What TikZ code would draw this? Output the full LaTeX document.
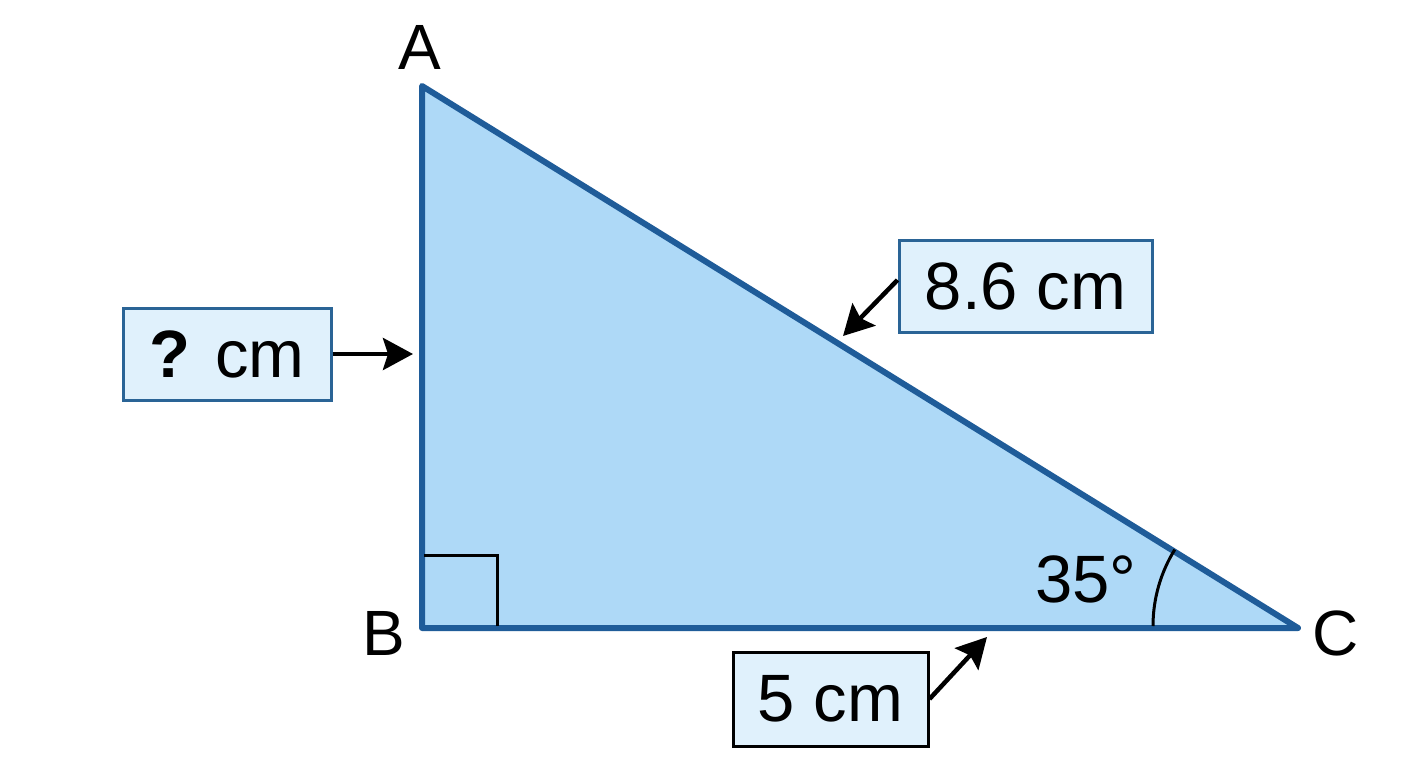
\documentclass[tikz,border=0pt]{standalone}
\usepackage{fontspec}
\setmainfont{Liberation Sans}
\usetikzlibrary{arrows.meta}
\definecolor{trifill}{HTML}{AED9F7}
\definecolor{tristroke}{HTML}{1F5C99}
\definecolor{boxfill}{HTML}{E0F1FC}
\definecolor{boxblue}{HTML}{2A6496}
\tikzset{
  tri/.style={fill=trifill, draw=tristroke, line width=6pt, line join=round},
  vlabel/.style={font=\fontsize{64}{76}\selectfont, inner sep=0pt},
  measbox/.style={draw=boxblue, fill=boxfill, line width=3pt, font=\fontsize{67}{80}\selectfont, inner sep=0pt},
  pointer/.style={draw=black, line width=4.5pt, -{Stealth[length=30pt,width=32pt,inset=5pt]}},
  anglemark/.style={draw=black, line width=3pt}
}
\begin{document}
\begin{tikzpicture}[x=1pt,y=-1pt]
\useasboundingbox (0,0) rectangle (1408,768);
\fill[white] (0,0) rectangle (1408,768);
\coordinate (A) at (422,86);
\coordinate (B) at (422,628);
\coordinate (C) at (1298,628);
\path[tri] (A) -- (B) -- (C) -- cycle;
% right angle
\draw[anglemark] (424,555) -- (497,555) -- (497,626);
% angle arc at C (radius 145)
\draw[anglemark] (1153,626) arc[start angle=180, end angle=148.2, radius=145pt];
% vertex labels
\node[vlabel] (la) at (420,47) {A};
\node[vlabel] (lb) at (384,633) {B};
\node[vlabel] (lc) at (1336,633) {C};
\node[font=\fontsize{67}{80}\selectfont, inner sep=0pt] (ang) at (1086,579) {35°};
% measurement boxes
\node[measbox, minimum width=208pt, minimum height=92pt] (q) at (227,354) {\textbf{?} cm};
\node[measbox, minimum width=253pt, minimum height=92pt] (h) at (1025.5,286) {8.6 cm};
\node[measbox, draw=black, minimum width=195pt, minimum height=94pt] (b) at (830.5,699) {5 cm};
% pointers
\coordinate (tq) at (413,354);
\coordinate (th) at (843,336);
\coordinate (tb) at (987,637);
\draw[pointer] (q.east) -- (tq);
\draw[pointer] ([yshift=6pt]h.west) -- (th);
\draw[pointer] (b.east) -- (tb);
\end{tikzpicture}
\end{document}
